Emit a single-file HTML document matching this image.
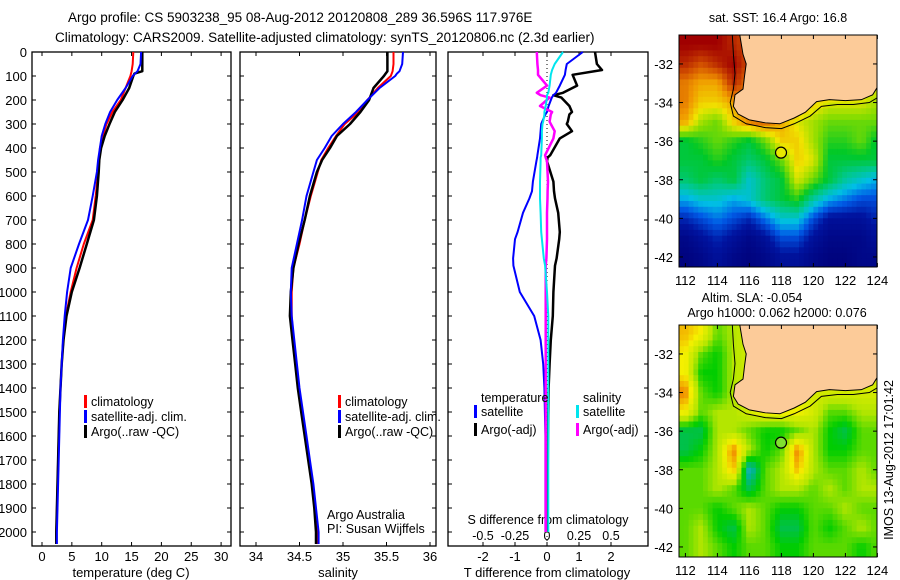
<!DOCTYPE html>
<html><head><meta charset="utf-8"><style>
body{margin:0;background:#fff;}
svg{display:block;font-family:"Liberation Sans",sans-serif;}
text{fill:#000;}
</style></head><body>
<svg id="fig" width="900" height="580" viewBox="0 0 900 580" xmlns="http://www.w3.org/2000/svg">
<defs>
<clipPath id="clip1"><rect x="679" y="35" width="198" height="232"/></clipPath>
<clipPath id="clip2"><rect x="679" y="325" width="198" height="232"/></clipPath>
</defs>
<text x="68" y="22" font-size="13.5">Argo profile: CS 5903238_95 08-Aug-2012 20120808_289 36.596S 117.976E</text>
<text x="55" y="42" font-size="13.5">Climatology: CARS2009. Satellite-adjusted climatology: synTS_20120806.nc (2.3d earlier)</text>
<g id="g"></g>
</svg>
<script>
// ---- profile data ----
const depthT=[0,50,80,90,100,150,200,250,300,350,400,450,500,600,700,800,900,1000,1100,1200,1300,1400,1500,1600,1700,1800,1900,2000,2050];
const climT=[15.3,15.2,15.0,14.9,14.8,14.0,13.2,11.8,10.8,10.2,9.7,9.6,9.4,9.0,8.5,7.0,5.8,4.8,4.0,3.6,3.3,3.1,2.9,2.8,2.7,2.6,2.5,2.4,2.4];
const satT=[16.6,16.5,16.0,15.6,15.2,14.0,12.6,11.4,10.6,10.0,9.7,9.4,9.2,8.5,7.7,6.2,4.8,4.2,3.8,3.5,3.3,3.1,3.0,2.9,2.8,2.7,2.6,2.5,2.5];
const argoT=[16.8,16.8,16.8,15.5,15.3,14.6,13.5,12.2,11.3,10.5,9.9,9.6,9.5,9.2,8.7,7.5,6.3,5.0,4.1,3.6,3.3,3.1,2.9,2.8,2.7,2.6,2.5,2.4,2.4];
const climS=[35.58,35.58,35.57,35.56,35.55,35.4,35.28,35.18,35.02,34.92,34.83,34.75,34.71,34.63,34.56,34.5,34.43,34.41,34.41,34.43,34.46,34.49,34.53,34.57,34.61,34.65,34.68,34.70,34.71];
const satS=[35.69,35.68,35.65,35.62,35.6,35.42,35.28,35.15,35.0,34.87,34.79,34.7,34.66,34.58,34.53,34.47,34.41,34.4,34.41,34.44,34.47,34.5,34.54,34.58,34.62,34.66,34.69,34.72,34.72];
const argoS=[35.51,35.51,35.51,35.49,35.47,35.35,35.3,35.2,35.08,34.93,34.85,34.76,34.7,34.62,34.56,34.49,34.43,34.4,34.39,34.42,34.45,34.48,34.52,34.56,34.6,34.64,34.67,34.69,34.69];
const depthD=[0,50,75,95,140,170,180,190,225,250,260,290,300,330,360,430,440,455,540,580,610,670,750,780,860,890,1000,1100,1200,1300,1400,1600,1800,2000];
const satTd=[1.12,0.62,0.58,0.56,0.4,0.28,0.2,0.15,0.05,0,-0.05,-0.15,-0.18,-0.2,-0.22,-0.3,-0.31,-0.33,-0.44,-0.47,-0.55,-0.75,-0.92,-1.0,-1.06,-1.05,-0.85,-0.4,-0.2,-0.12,-0.08,-0.05,-0.05,-0.05];
const argoTd=[1.5,1.56,1.72,0.8,0.94,0.5,0.2,0.45,0.7,0.78,0.7,0.65,0.62,0.78,0.4,0.1,0.02,0,0.2,0.22,0.25,0.35,0.4,0.38,0.3,0.25,0.2,0.18,0.12,0.08,0.05,0.03,0.02,0.02];
const satSd=[0.125,0.06,0.04,0.03,0.02,0.01,0,0,-0.01,-0.02,-0.02,-0.03,-0.035,-0.04,-0.04,-0.045,-0.05,-0.05,-0.055,-0.055,-0.055,-0.05,-0.045,-0.04,-0.025,-0.015,0.0,0.01,0.01,0.01,0.01,0.01,0.01,0.01];
const argoSd=[-0.08,-0.075,-0.07,-0.07,0,-0.08,-0.05,0.02,-0.055,0.04,0.03,0.02,0.03,0.06,0.05,-0.015,-0.01,0.0,0.008,0.005,0.004,0.0,0,0,-0.005,-0.01,-0.01,-0.01,-0.01,-0.01,-0.01,-0.01,-0.01,-0.01];
const depthTicks=[0,100,200,300,400,500,600,700,800,900,1000,1100,1200,1300,1400,1500,1600,1700,1800,1900,2000];
const tempTicks=[0,5,10,15,20,25,30];
const salTicks=[34,34.5,35,35.5,36];
const tdTicks=[-2,-1,0,1,2];
const sdTicks=[-0.5,-0.25,0,0.25,0.5];
const sdLabels=['-0.5','-0.25','0','0.25','0.5'];
// ---- map data (1-degree cells, rows lat -31..-42, cols lon 112..124) ----
const mapLats=[-31,-32,-33,-34,-35,-36,-37,-38,-39,-40,-41,-42];
const mapLons=[112,113,114,115,116,117,118,119,120,121,122,123,124];
const sstGrid=[
[1,1,1,.95,.9,.9,.9,.9,.9,.9,.9,.9,.9],
[.95,.9,.95,1,.9,.9,.9,.9,.9,.9,.9,.9,.9],
[.85,.8,.8,.95,.85,.85,.85,.85,.85,.8,.8,.75,.7],
[.85,.75,.75,.8,.85,.85,.85,.85,.75,.7,.7,.7,.65],
[.8,.65,.6,.75,.85,.88,.8,.7,.65,.6,.6,.6,.6],
[.5,.55,.6,.55,.5,.6,.75,.75,.65,.55,.55,.6,.5],
[.5,.5,.55,.5,.45,.5,.6,.75,.7,.5,.5,.5,.5],
[.45,.5,.45,.5,.35,.45,.5,.7,.6,.5,.4,.35,.3],
[.3,.35,.35,.3,.35,.45,.5,.55,.4,.3,.25,.2,.2],
[.15,.2,.25,.2,.15,.25,.35,.35,.2,.1,.1,.1,.15],
[.05,.1,.15,.1,.05,.1,.2,.2,.1,.05,.05,.05,.1],
[.02,.05,.1,.05,.02,.05,.1,.1,.05,.02,.02,.05,.05]];
const slaGrid=[
[.75,.7,.55,.6,.65,.65,.65,.65,.65,.65,.65,.65,.65],
[.7,.55,.5,.6,.65,.65,.65,.65,.65,.65,.65,.65,.65],
[.7,.5,.5,.6,.65,.65,.65,.65,.65,.65,.65,.65,.65],
[.8,.55,.5,.6,.65,.65,.65,.65,.65,.65,.65,.65,.65],
[.7,.55,.6,.6,.65,.7,.7,.7,.65,.55,.55,.6,.6],
[.45,.45,.6,.6,.55,.5,.5,.55,.6,.5,.45,.55,.55],
[.45,.5,.6,.8,.6,.5,.55,.8,.6,.5,.5,.55,.55],
[.55,.55,.6,.75,.35,.55,.6,.75,.6,.55,.55,.6,.55],
[.55,.55,.6,.55,.45,.55,.6,.6,.55,.6,.55,.6,.6],
[.55,.55,.5,.55,.6,.55,.5,.5,.55,.55,.6,.55,.55],
[.55,.6,.5,.45,.6,.55,.45,.45,.55,.5,.55,.6,.55],
[.55,.6,.55,.5,.55,.55,.5,.5,.55,.55,.55,.5,.55]];
const coast=[[115.3,-30],[115.6,-31.5],[115.8,-32],[115.7,-32.6],[115.6,-33.3],[115.1,-33.6],[115.0,-34.2],[115.3,-34.6],[116,-34.9],[117,-35.05],[117.9,-35.1],[118.8,-34.8],[119.5,-34.5],[120.2,-33.95],[121,-33.85],[122,-33.9],[123,-33.85],[123.7,-33.6],[124,-33.2],[124.5,-33],[124.5,-30]];
const isobath=[[114.9,-30],[115.0,-31.5],[115.1,-32.5],[115.0,-33.3],[114.8,-34],[115.0,-34.7],[115.8,-35.1],[117,-35.3],[118,-35.35],[118.8,-35.1],[119.8,-34.7],[120.5,-34.2],[121.5,-34.1],[122.5,-34.1],[123.5,-34],[124.5,-33.5]];
const argoPos=[117.976,-36.596];
const lonTicks=[112,114,116,118,120,122,124];
const latTicks=[-32,-34,-36,-38,-40,-42];

const NS="http://www.w3.org/2000/svg";
const G=document.getElementById('g');
function mk(tag,at,parent){const e=document.createElementNS(NS,tag);for(const k in at)e.setAttribute(k,at[k]);(parent||G).appendChild(e);return e;}
function txt(s,x,y,size,anchor,parent){const t=mk('text',{x:x,y:y,'font-size':size,'text-anchor':anchor||'start'},parent);t.textContent=s;return t;}

const PT=52,PB=546;
const yD=d=>PT+d*0.24;
const xT=v=>42+v*5.97;
const xS=v=>256+(v-34)*87;
const xTd=v=>547+v*32;
const xSd=v=>547+v*128;
const panels=[[32,231,'temperature-panel'],[240,436,'salinity-panel'],[448,648,'difference-panel']];
panels.forEach(p=>{
  const r=mk('rect',{x:p[0],y:PT,width:p[1]-p[0],height:PB-PT,fill:'none',stroke:'#000','stroke-width':1.3});
  
  
  depthTicks.forEach(d=>{mk('line',{x1:p[0],x2:p[0]+4,y1:yD(d),y2:yD(d),stroke:'#000'});mk('line',{x1:p[1]-4,x2:p[1],y1:yD(d),y2:yD(d),stroke:'#000'});});
});
depthTicks.forEach(d=>{const t=txt(String(d),27,yD(d)+5,13,'end');});
function xticks(ticks,fx){ticks.forEach(v=>{const x=fx(v);mk('line',{x1:x,x2:x,y1:PB,y2:PB-4,stroke:'#000'});mk('line',{x1:x,x2:x,y1:PT,y2:PT+4,stroke:'#000'});const t=txt(String(v),x,561,13,'middle');});}
xticks(tempTicks,xT);xticks(salTicks,xS);xticks(tdTicks,xTd);
let t;
t=txt('temperature (deg C)',131,577,13,'middle');
t=txt('salinity',338,577,13,'middle');
t=txt('T difference from climatology',547,577,13,'middle');
t=txt('S difference from climatology',548,524,12.5,'middle');
sdTicks.forEach((v,i)=>{const tt=txt(sdLabels[i],xSd(v),540,12.5,'middle');});
mk('line',{x1:547,x2:547,y1:PT,y2:PB,stroke:'#000','stroke-dasharray':'1,3'});

function line(xs,fx,depths,color,w,name){
  const pts=xs.map((v,i)=>fx(v).toFixed(1)+','+yD(depths[i]).toFixed(1)).join(' ');
  const p=mk('polyline',{points:pts,fill:'none',stroke:color,'stroke-width':w,'stroke-linejoin':'round'});
  
  
}
line(climT,xT,depthT,'#ff0000',2,'climatology-temperature-line');
line(argoT,xT,depthT,'#000000',2.5,'argo-temperature-line');
line(satT,xT,depthT,'#0000ff',2,'satellite-temperature-line');
line(climS,xS,depthT,'#ff0000',2,'climatology-salinity-line');
line(argoS,xS,depthT,'#000000',2.5,'argo-salinity-line');
line(satS,xS,depthT,'#0000ff',2,'satellite-salinity-line');
line(argoTd,xTd,depthD,'#000000',2.5,'argo-t-diff-line');
line(satTd,xTd,depthD,'#0000ff',2,'satellite-t-diff-line');
line(argoSd,xSd,depthD,'#ff00ff',2.5,'argo-s-diff-line');
line(satSd,xSd,depthD,'#00e5ee',2,'satellite-s-diff-line');

function legend(x,y,color,label,name){
  const g=mk('g',{});
  mk('rect',{x:x,y:y-11,width:3,height:13,fill:color},g);
  txt(label,x+7,y,12.5,'start',g);
}
legend(84,406,'#ff0000','climatology','legend-climatology-t');
legend(84,421,'#0000ff','satellite-adj. clim.','legend-satellite-t');
legend(84,436,'#000000','Argo(..raw -QC)','legend-argo-t');
legend(338,406,'#ff0000','climatology','legend-climatology-s');
legend(338,421,'#0000ff','satellite-adj. clim.','legend-satellite-s');
legend(338,436,'#000000','Argo(..raw -QC)','legend-argo-s');
t=txt('temperature',481,402,12.5);
t=txt('salinity',583,402,12.5);
legend(474,416,'#0000ff','satellite','legend-satellite-td');
legend(474,434,'#000000','Argo(-adj)','legend-argo-td');
legend(576,416,'#00e5ee','satellite','legend-satellite-sd');
legend(576,434,'#ff00ff','Argo(-adj)','legend-argo-sd');
t=txt('Argo Australia',327,519,12.5);
t=txt('PI: Susan Wijffels',327,533,12.5);

// ---- maps ----
function lerpC(stops,v){v=Math.max(0,Math.min(1,v));for(let i=1;i<stops.length;i++){if(v<=stops[i][0]){const a=stops[i-1],b=stops[i],f=(v-a[0])/(b[0]-a[0]);return 'rgb('+[1,2,3].map(k=>Math.round(a[k]+(b[k]-a[k])*f)).join(',')+')';}}const l=stops[stops.length-1];return 'rgb('+l[1]+','+l[2]+','+l[3]+')';}
const jet=[[0,0,0,120],[0.12,0,20,160],[0.22,0,90,230],[0.32,0,190,230],[0.42,0,200,140],[0.52,0,200,40],[0.62,130,220,0],[0.72,240,230,0],[0.82,240,150,0],[0.9,210,80,0],[1,160,0,0]];
const slaC=[[0.3,60,170,230],[0.4,0,180,150],[0.5,0,205,0],[0.6,180,230,0],[0.7,245,240,0],[0.8,240,130,0],[1,200,60,0]];
function sample(grid,lo,la){ // bilinear from the data grid
  let fj=Math.max(0,Math.min(mapLons.length-1.001,lo-mapLons[0]));
  let fi=Math.max(0,Math.min(mapLats.length-1.001,mapLats[0]-la));
  const i=Math.floor(fi),j=Math.floor(fj),a=fi-i,b=fj-j;
  return grid[i][j]*(1-a)*(1-b)+grid[i+1][j]*a*(1-b)+grid[i][j+1]*(1-a)*b+grid[i+1][j+1]*a*b;
}
function drawMap(top,grid,cmap,clip,name,markerFill){
  const mx=v=>679+(v-111.6)*16, my=v=>top+(-30.5-v)*19.3;
  const g=mk('g',{'clip-path':'url(#'+clip+')'});
  const step=0.3;
  for(let la=-30.4;la>-42.8;la-=step){for(let lo=111.6;lo<124.1;lo+=step){
    const c=mk('rect',{x:mx(lo).toFixed(1),y:my(la).toFixed(1),width:(step*16+0.6).toFixed(1),height:(step*19.3+0.6).toFixed(1),fill:lerpC(cmap,sample(grid,lo+step/2,la-step/2))},g);
    
    
  }}
  const land=mk('polygon',{points:coast.map(p=>mx(p[0])+','+my(p[1])).join(' '),fill:'#fccb99',stroke:'#000','stroke-width':1},g);
  
  const iso=mk('polyline',{points:isobath.map(p=>mx(p[0])+','+my(p[1])).join(' '),fill:'none',stroke:'#000','stroke-width':1},g);
  
  const m=mk('circle',{cx:mx(argoPos[0]),cy:my(argoPos[1]),r:5.5,fill:markerFill,stroke:'#000','stroke-width':1.2});
  
  mk('rect',{x:679,y:top,width:198,height:232,fill:'none',stroke:'#000'});
  lonTicks.forEach(v=>{const x=mx(v);mk('line',{x1:x,x2:x,y1:top,y2:top+4,stroke:'#000'});mk('line',{x1:x,x2:x,y1:top+232,y2:top+228,stroke:'#000'});const tt=txt(String(v),x,top+250,13,'middle');});
  latTicks.forEach(v=>{const y=my(v);mk('line',{x1:679,x2:683,y1:y,y2:y,stroke:'#000'});mk('line',{x1:873,x2:877,y1:y,y2:y,stroke:'#000'});const tt=txt(String(v),673,y+5,13,'end');});
}
drawMap(35,sstGrid,jet,'clip1','sst-map','#e8e800');
drawMap(325,slaGrid,slaC,'clip2','sla-map','#80e030');
t=txt('sat. SST: 16.4  Argo: 16.8',778,22,12.5,'middle');
t=txt('Altim. SLA: -0.054',752,302,12.5,'middle');
t=txt('Argo h1000: 0.062 h2000: 0.076',777,317,12.5,'middle');
t=txt('IMOS 13-Aug-2012 17:01:42',0,0,12.5,'middle');t.setAttribute('transform','translate(893,460) rotate(-90)');
</script>
</body></html>
